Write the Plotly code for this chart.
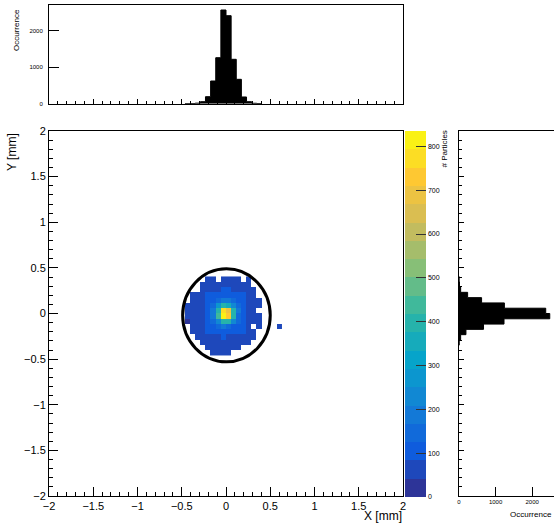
import numpy as np
import plotly.graph_objects as go

W, H = 554, 524
BIN_W = 4 / 69
FONT = "Liberation Sans, Arial, Helvetica, sans-serif"

# ---- data -------------------------------------------------------------
# X projection (top histogram): bin index k covers [k*w, (k+1)*w]
X_HIST_BINS = [-8, -7, -6, -5, -4, -3, -2, -1, 0, 1, 2, 3, 4, 5, 6]
X_HIST_COUNTS = [3, 5, 15, 55, 192, 622, 1260, 2567, 2411, 1216, 668, 184, 55, 12, 5]

# Y projection (right histogram): bin index k covers [k*w, (k+1)*w]
Y_HIST_BINS = [-6, -5, -4, -3, -2, -1, 0, 1, 2, 3, 4, 5, 6]
Y_HIST_COUNTS = [6, 45, 190, 670, 1230, 2480, 2370, 1240, 617, 236, 45, 14, 4]

# 2D map: columns = x bin index, rows = y bin index (top row first)
MAP_X_BINS = list(range(-8, 11))
MAP_Y_BINS = list(range(6, -9, -1))
MAP_COUNTS = [
    [0, 0, 0, 0, 48, 55, 0, 62, 58, 52, 47, 0, 44, 0, 0, 0, 0, 0, 0],
    [0, 0, 0, 52, 58, 64, 70, 72, 75, 66, 60, 55, 50, 0, 0, 0, 0, 0, 0],
    [0, 0, 0, 55, 62, 70, 80, 86, 84, 78, 70, 62, 56, 46, 0, 0, 0, 0, 0],
    [0, 45, 50, 60, 88, 96, 105, 112, 110, 100, 92, 84, 62, 52, 0, 0, 0, 0, 0],
    [0, 48, 57, 66, 98, 95, 140, 175, 170, 135, 90, 96, 68, 58, 47, 0, 0, 0, 0],
    [42, 52, 62, 72, 104, 150, 260, 390, 370, 240, 140, 100, 74, 60, 50, 0, 0, 0, 0],
    [46, 55, 64, 76, 110, 185, 410, 760, 690, 380, 170, 106, 78, 62, 0, 0, 0, 0, 0],
    [44, 56, 66, 78, 112, 180, 430, 835, 745, 395, 165, 104, 76, 60, 48, 0, 0, 0, 0],
    [40, 52, 63, 74, 106, 140, 250, 400, 385, 230, 130, 98, 70, 56, 46, 0, 0, 0, 0],
    [0, 48, 58, 68, 96, 90, 130, 170, 160, 125, 85, 92, 64, 0, 45, 0, 0, 0, 58],
    [0, 44, 54, 64, 88, 100, 106, 112, 108, 100, 94, 86, 60, 50, 0, 0, 0, 0, 0],
    [0, 0, 50, 58, 66, 74, 80, 84, 82, 76, 68, 62, 54, 44, 0, 0, 0, 0, 0],
    [0, 0, 0, 48, 56, 62, 68, 70, 68, 62, 56, 50, 42, 0, 0, 0, 0, 0, 0],
    [0, 0, 0, 0, 46, 52, 57, 60, 58, 52, 46, 0, 0, 0, 0, 0, 0, 0, 0],
    [0, 0, 0, 0, 0, 44, 48, 50, 47, 0, 0, 0, 0, 0, 0, 0, 0, 0, 0],
]
Z_MAX = 835
CBAR_TICKS = [0, 100, 200, 300, 400, 500, 600, 700, 800]
HIST_TICKS = [0, 1000, 2000]
# acceptance circle (mm)
CIRCLE = dict(x0=-0.49, x1=0.5, y0=-0.53, y1=0.49)

# ---- ROOT kBird palette, 20 contour bands ------------------------------
stops = np.linspace(0, 1, 9)
R = [0.2082, 0.0592, 0.0780, 0.0232, 0.1802, 0.5301, 0.8186, 0.9956, 0.9764]
G = [0.1664, 0.3599, 0.5041, 0.6419, 0.7178, 0.7492, 0.7328, 0.7862, 0.9832]
B = [0.5293, 0.8684, 0.8385, 0.7914, 0.6425, 0.4662, 0.3499, 0.1968, 0.0539]
NB = 20
colorscale = []
for k in range(NB):
    f = (k + 0.5) / NB
    c = "rgb(%d,%d,%d)" % tuple(int(round(255 * np.interp(f, stops, ch))) for ch in (R, G, B))
    colorscale.append([k / NB, c])
    colorscale.append([(k + 1) / NB, c])


def px_x(p):
    return p / W


def px_y(p):
    return 1 - p / H


z = [[(v if v > 0 else None) for v in row] for row in MAP_COUNTS][::-1]
xc = [(i + 0.5) * BIN_W for i in MAP_X_BINS]
yc = [(j + 0.5) * BIN_W for j in MAP_Y_BINS][::-1]

fig = go.Figure()
fig.add_trace(go.Heatmap(
    x=xc, y=yc, z=z, zmin=0, zmax=Z_MAX, colorscale=colorscale,
    xaxis="x", yaxis="y", hoverongaps=False,
    colorbar=dict(
        x=px_x(405), xanchor="left", y=px_y(497), yanchor="bottom",
        len=366 / H, lenmode="fraction", thickness=21, thicknessmode="pixels",
        xpad=0, ypad=0, outlinewidth=0,
        tickmode="array", tickvals=CBAR_TICKS, ticks="inside", ticklen=10,
        tickcolor="#333", tickwidth=1,
        tickfont=dict(family=FONT, size=7, color="black"),
    ),
))

# histograms as filled step outlines (solid, no seams between bins)
x_edges = [k * BIN_W for k in X_HIST_BINS] + [(X_HIST_BINS[-1] + 1) * BIN_W]
fig.add_trace(go.Scatter(
    x=x_edges, y=X_HIST_COUNTS + [X_HIST_COUNTS[-1]], mode="lines", line_shape="hv",
    line=dict(color="black", width=1), fill="tozeroy", fillcolor="black",
    xaxis="x2", yaxis="y2",
))
y_edges = [k * BIN_W for k in Y_HIST_BINS] + [(Y_HIST_BINS[-1] + 1) * BIN_W]
fig.add_trace(go.Scatter(
    y=y_edges, x=Y_HIST_COUNTS + [Y_HIST_COUNTS[-1]], mode="lines", line_shape="vh",
    line=dict(color="black", width=1), fill="tozerox", fillcolor="black",
    xaxis="x3", yaxis="y3",
))

base = dict(showline=True, linecolor="black", linewidth=1, mirror=True,
            ticks="inside", tickcolor="black", showgrid=False, zeroline=False,
            automargin=False)
minor = dict(dtick=0.1, tick0=0, ticks="inside", ticklen=4, tickcolor="black", showgrid=False)

fig.update_layout(
    width=W, height=H, margin=dict(l=0, r=0, t=0, b=0),
    paper_bgcolor="white", plot_bgcolor="white", showlegend=False,
    font=dict(family=FONT, color="black"),
    xaxis=dict(base, domain=[px_x(49), px_x(403)], anchor="y", range=[-2, 2],
               dtick=0.5, tick0=0, ticklen=9, minor=minor,
               tickfont=dict(size=11)),
    yaxis=dict(base, domain=[px_y(496), px_y(131)], anchor="x", range=[-2, 2],
               dtick=0.5, tick0=0, ticklen=9, minor=minor,
               tickfont=dict(size=11)),
    xaxis2=dict(base, domain=[px_x(49), px_x(403)], anchor="y2", range=[-2, 2],
                dtick=0.5, tick0=0, ticklen=5, minor=dict(minor, ticklen=3),
                showticklabels=False),
    yaxis2=dict(base, domain=[px_y(103.7), px_y(5)], anchor="x2", range=[0, 2704],
                tickmode="array", tickvals=HIST_TICKS, ticklen=10,
                ticklabelstandoff=4, tickfont=dict(size=6)),
    xaxis3=dict(base, domain=[px_x(459), 1.0], anchor="y3", range=[0, 2596],
                tickmode="array", tickvals=HIST_TICKS, ticklen=9,
                tickfont=dict(size=6)),
    yaxis3=dict(base, domain=[px_y(496), px_y(131)], anchor="x3", range=[-2, 2],
                dtick=0.5, tick0=0, ticklen=5, minor=dict(minor, ticklen=3),
                showticklabels=False),
)

fig.add_shape(type="circle", xref="x", yref="y", line=dict(color="black", width=3),
              fillcolor="rgba(0,0,0,0)", **CIRCLE)

ann = [
    dict(text="Y [mm]", x=px_x(12), y=px_y(131), xanchor="center", yanchor="top",
         textangle=-90, font=dict(size=12)),
    dict(text="X [mm]", x=px_x(404), y=px_y(516), xanchor="right", yanchor="middle",
         font=dict(size=12)),
    dict(text="Occurrence", x=px_x(16), y=px_y(7), xanchor="center", yanchor="top",
         textangle=-90, font=dict(size=8)),
    dict(text="Occurrence", x=px_x(554), y=px_y(514), xanchor="right", yanchor="middle",
         font=dict(size=8)),
    dict(text="# Particles", x=px_x(444), y=px_y(129), xanchor="center", yanchor="top",
         textangle=-90, font=dict(size=8)),
]
for a in ann:
    a.update(xref="paper", yref="paper", showarrow=False)
fig.update_layout(annotations=ann)

fig.write_html("out.html", config={"displayModeBar": False},
               post_script="document.body.style.margin='0';document.body.style.padding='0';")
